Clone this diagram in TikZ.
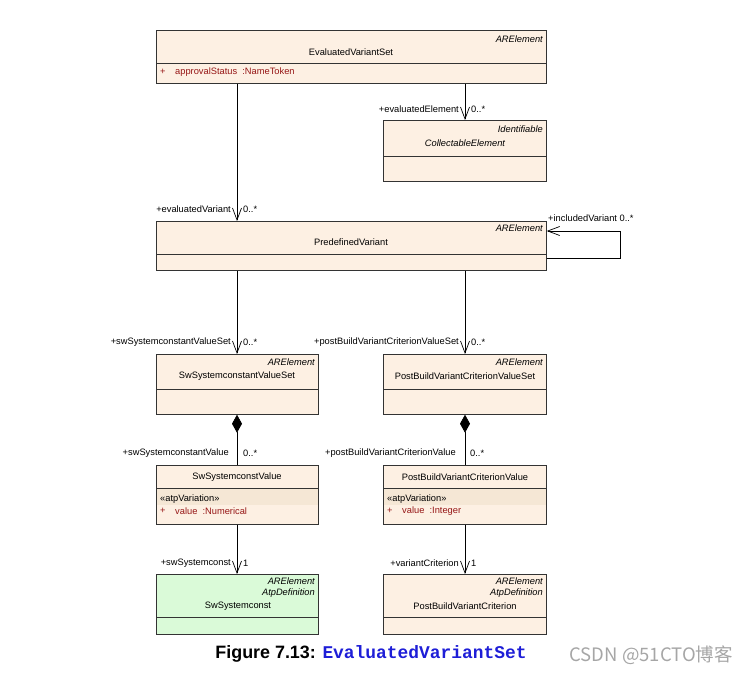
\documentclass[tikz,border=0pt]{standalone}
\usepackage{fontspec}
\setmainfont{Liberation Sans}
\newfontfamily\capmono{Liberation Mono}
\newfontfamily\cjk{Noto Sans CJK SC}
\usepackage{xcolor}
\usetikzlibrary{arrows.meta,positioning,calc}
\definecolor{umlbeige}{RGB}{253,240,227}
\definecolor{umlgreen}{RGB}{218,250,216}
\definecolor{atpband}{RGB}{245,231,213}
\definecolor{attrred}{RGB}{150,22,22}
\definecolor{capblue}{RGB}{30,30,215}
\tikzset{
  every node/.append style={font=\fontsize{9.3}{10}\selectfont},
  cls/.style={draw=black!80, fill=umlbeige, anchor=north west, inner sep=0pt, line width=0.7pt},
  sep/.style={draw=black!80, line width=0.7pt},
  stereo/.style={anchor=east, inner sep=0pt, font=\fontsize{9.3}{10}\selectfont\itshape},
  cname/.style={inner sep=0pt},
  attr/.style={anchor=west, inner sep=0pt, text=attrred},
  role/.style={inner sep=0pt},
  assoc/.style={-{Straight Barb[length=12pt,width=9pt]}, line width=0.7pt},
  compo/.style={{Diamond[length=18pt,width=10pt]}-, line width=0.7pt}
}

\begin{document}
\begin{tikzpicture}[x=1pt,y=-1pt]
  \useasboundingbox (0,0) rectangle (743,675);
  \coordinate (lc) at (237,0);
  \coordinate (rc) at (465,0);

  % class boxes
  \node[cls, minimum width=390, minimum height=53] (evs) at (156,30) {};
  \node[cls, minimum width=163, minimum height=61] (ce) at (383,120) {};
  \node[cls, minimum width=390, minimum height=49] (pv) at (156,221) {};
  \node[cls, minimum width=162, minimum height=60] (sscvs) at (156,354) {};
  \node[cls, minimum width=163, minimum height=60] (pbvcvs) at (383,354) {};
  \node[cls, minimum width=162, minimum height=59] (sscv) at (156,465) {};
  \node[cls, minimum width=163, minimum height=59] (pbvcv) at (383,465) {};
  \node[cls, fill=umlgreen, minimum width=162, minimum height=60] (ssc) at (156,574) {};
  \node[cls, minimum width=163, minimum height=60] (pbvc) at (383,574) {};

  \fill[atpband] (156.5,489) rectangle (317.5,505);
  \fill[atpband] (383.5,489) rectangle (545.5,505);
  \draw[sep] (156,63) -- (546,63);
  \draw[sep] (383,156) -- (546,156);
  \draw[sep] (156,254) -- (546,254);
  \draw[sep] (156,389) -- (318,389);
  \draw[sep] (383,389) -- (546,389);
  \draw[sep] (156,488) -- (318,488);
  \draw[sep] (383,488) -- (546,488);
  \draw[sep] (156,617) -- (318,617);
  \draw[sep] (383,617) -- (546,617);

  % texts in the boxes
  \node[stereo] (evsst) at (543,39) {ARElement};
  \node[cname] (evsn) at (351,52) {EvaluatedVariantSet};
  \node[attr] (evsp) at (160,72) {+};
  \node[attr] (evsa) at (175,72) {approvalStatus\ \ :NameToken};
  \node[stereo] (cest) at (543,129) {Identifiable};
  \node[cname, font=\fontsize{9.3}{10}\selectfont\itshape] (cen) at (465,143) {CollectableElement};
  \node[stereo] (pvst) at (543,228) {ARElement};
  \node[cname] (pvn) at (351,242) {PredefinedVariant};
  \node[stereo] (sscvsst) at (315,362) {ARElement};
  \node[cname] (sscvsn) at (237,376) {SwSystemconstantValueSet};
  \node[stereo] (pbvcvsst) at (543,362) {ARElement};
  \node[cname] (pbvcvsn) at (465,376) {PostBuildVariantCriterionValueSet};
  \node[cname] (sscvn) at (237,477) {SwSystemconstValue};
  \node[attr, text=black] (sscvv) at (160,499) {«atpVariation»};
  \node[attr] (sscvp) at (160,511) {+};
  \node[attr] (sscva) at (175,511) {value\ \ :Numerical};
  \node[cname] (pbvcvn) at (465,477) {PostBuildVariantCriterionValue};
  \node[attr, text=black] (pbvcvv) at (387,499) {«atpVariation»};
  \node[attr] (pbvcvp) at (387,511) {+};
  \node[attr] (pbvcva) at (402,511) {value\ \ :Integer};
  \node[stereo] (sscst) at (315,581) {ARElement};
  \node[stereo] (sscad) at (315,593) {AtpDefinition};
  \node[cname] (sscn) at (238,606) {SwSystemconst};
  \node[stereo] (pbvcst) at (543,581) {ARElement};
  \node[stereo] (pbvcad) at (543,593) {AtpDefinition};
  \node[cname] (pbvcn) at (465,606) {PostBuildVariantCriterion};

  % connectors
  \coordinate (lpb) at (620,258);
  \coordinate (lpt) at (620,231);
  \draw[assoc] (evs.south -| rc) -- (ce.north -| rc);
  \draw[assoc] (evs.south -| lc) -- (pv.north -| lc);
  \draw[assoc] (pv.east |- lpb) -- (lpb) -- (lpt) -- (pv.east |- lpt);
  \draw[assoc] (pv.south -| lc) -- (sscvs.north -| lc);
  \draw[assoc] (pv.south -| rc) -- (pbvcvs.north -| rc);
  \draw[compo] (sscvs.south -| lc) -- (sscv.north -| lc);
  \draw[compo] (pbvcvs.south -| rc) -- (pbvcv.north -| rc);
  \draw[assoc] (sscv.south -| lc) -- (ssc.north -| lc);
  \draw[assoc] (pbvcv.south -| rc) -- (pbvc.north -| rc);

  % role names
  \node[role, anchor=east] (rEe) at (459,109) {+evaluatedElement};
  \node[role, anchor=west] (mEe) at (471,109) {0..*};
  \node[role, anchor=east] (rEv) at (231,209) {+evaluatedVariant};
  \node[role, anchor=west] (mEv) at (243,209) {0..*};
  \node[role, anchor=west] (rIv) at (548,218) {+includedVariant 0..*};
  \node[role, anchor=east] (rScs) at (231,342) {+swSystemconstantValueSet};
  \node[role, anchor=west] (mScs) at (243,342) {0..*};
  \node[role, anchor=east] (rPcs) at (459,342) {+postBuildVariantCriterionValueSet};
  \node[role, anchor=west] (mPcs) at (471,342) {0..*};
  \node[role, anchor=east] (rScv) at (229,453) {+swSystemconstantValue};
  \node[role, anchor=west] (mScv) at (243,453) {0..*};
  \node[role, anchor=east] (rPcv) at (456,453) {+postBuildVariantCriterionValue};
  \node[role, anchor=west] (mPcv) at (470,453) {0..*};
  \node[role, anchor=east] (rSc) at (231,563) {+swSystemconst};
  \node[role, anchor=west] (mSc) at (243,563) {1};
  \node[role, anchor=east] (rVc) at (459,563) {+variantCriterion};
  \node[role, anchor=west] (mVc) at (471,563) {1};

  % caption
  \node (cap) at (371,654) {\fontsize{17.9}{20}\selectfont\bfseries Figure 7.13: \textcolor{capblue}{\capmono\bfseries EvaluatedVariantSet}};
  \node[anchor=west, text=black!35] (wm) at (566,655) {\fontsize{18.5}{20}\selectfont\cjk CSDN @51CTO博客};
\end{tikzpicture}
\end{document}
